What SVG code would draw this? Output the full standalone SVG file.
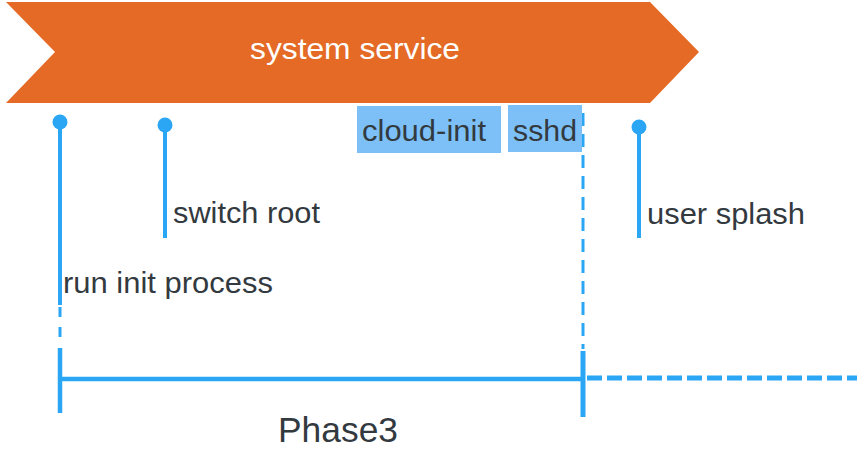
<svg xmlns="http://www.w3.org/2000/svg" width="857" height="471" viewBox="0 0 857 471">
<style>
.lbl{font-family:"Liberation Sans",Arial,sans-serif;font-size:29px;fill:#333a3f}
.ln{stroke:#2ba6f5;fill:none}
.dot{fill:#2ba6f5}
.box{fill:#7cc0f7}
</style>
<rect width="857" height="471" fill="#ffffff"/>
<g id="banner">
<polygon points="6,2 650,2 699,52 650,103 6,103 55,52" fill="#e46a25"/>
<text x="250" y="59" font-family="'Liberation Sans',Arial,sans-serif" font-size="30" fill="#ffffff" textLength="210" lengthAdjust="spacingAndGlyphs">system service</text>
</g>
<g id="connectors">
<line class="ln" x1="60" y1="122" x2="60" y2="305" stroke-width="4"/>
<line class="ln" x1="60" y1="307" x2="60" y2="338" stroke-width="3" stroke-dasharray="10 10"/>
<line class="ln" x1="60" y1="348" x2="60" y2="413" stroke-width="4.5"/>
<line class="ln" x1="60" y1="379" x2="583" y2="379" stroke-width="4.5"/>
<line class="ln" x1="583" y1="113" x2="583" y2="349" stroke-width="3" stroke-dasharray="13 8"/>
<line class="ln" x1="583" y1="351" x2="583" y2="417" stroke-width="5"/>
<line class="ln" x1="587" y1="378" x2="857" y2="378" stroke-width="5" stroke-dasharray="15 5"/>
<line class="ln" x1="165" y1="125" x2="165" y2="238" stroke-width="4"/>
<line class="ln" x1="639" y1="127" x2="639" y2="238" stroke-width="4"/>
</g>
<g id="run-init">
<circle class="dot" cx="60" cy="122" r="7.5"/>
<text class="lbl" x="63" y="293" textLength="210" lengthAdjust="spacingAndGlyphs">run init process</text>
</g>
<g id="switch-root">
<circle class="dot" cx="165" cy="125" r="7.5"/>
<text class="lbl" x="173" y="223" textLength="147" lengthAdjust="spacingAndGlyphs">switch root</text>
</g>
<g id="cloud-init">
<rect class="box" x="357" y="106" width="144" height="47"/>
<text class="lbl" x="362" y="141" textLength="124" lengthAdjust="spacingAndGlyphs">cloud-init</text>
</g>
<g id="sshd">
<rect class="box" x="508" y="105" width="74" height="47"/>
<text class="lbl" x="513" y="141" textLength="64" lengthAdjust="spacingAndGlyphs">sshd</text>
</g>
<g id="user-splash">
<circle class="dot" cx="639" cy="127" r="7.5"/>
<text class="lbl" x="647" y="224" textLength="158" lengthAdjust="spacingAndGlyphs">user splash</text>
</g>
<g id="phase3">
<text x="278" y="442" font-family="'Liberation Sans',Arial,sans-serif" font-size="35" fill="#333a3f" textLength="120" lengthAdjust="spacingAndGlyphs">Phase3</text>
</g>
</svg>
